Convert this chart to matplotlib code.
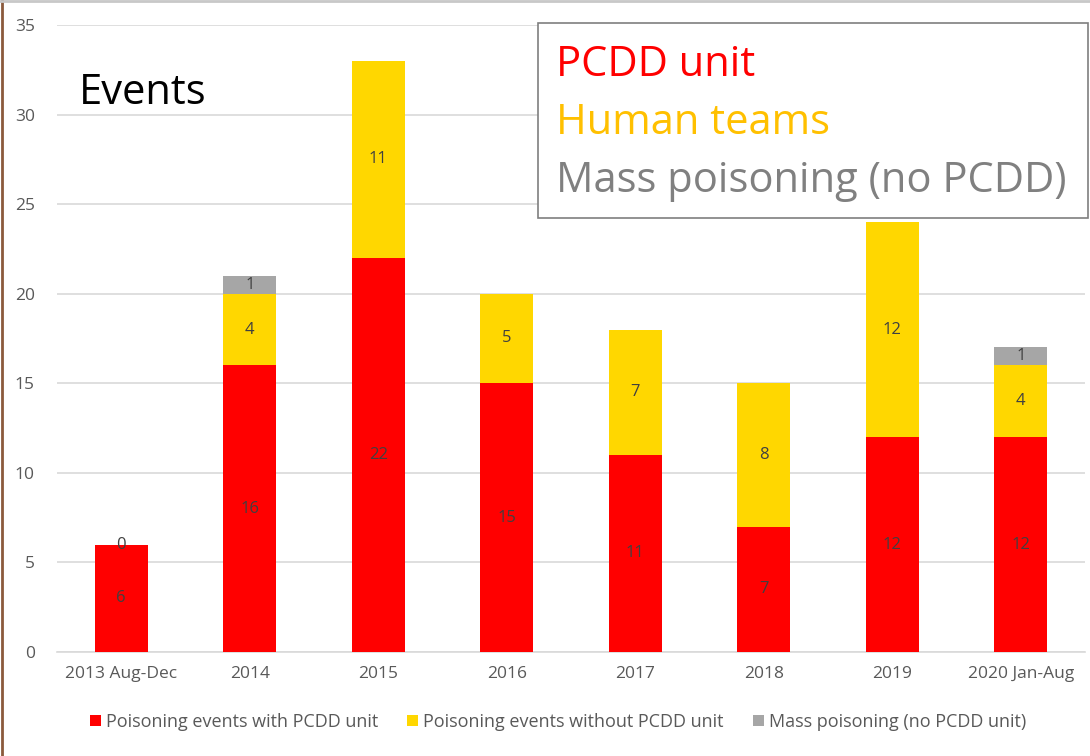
import matplotlib
matplotlib.use("Agg")
import matplotlib.pyplot as plt
from matplotlib.lines import Line2D
from matplotlib.patches import Patch
import numpy as np

categories = ["2013 Aug-Dec", "2014", "2015", "2016", "2017", "2018", "2019", "2020 Jan-Aug"]
with_pcdd = [6, 16, 22, 15, 11, 7, 12, 12]
without_pcdd = [0, 4, 11, 5, 7, 8, 12, 4]
mass_poisoning = [0, 1, 0, 0, 0, 0, 0, 1]
series_names = ["Poisoning events with PCDD unit", "Poisoning events without PCDD unit",
                "Mass poisoning (no PCDD unit)"]
yticks = [0, 5, 10, 15, 20, 25, 30, 35]

RED, YEL, GRY = "#FF0000", "#FFD700", "#A6A6A6"
TXT = "#595959"
FONT = ["Open Sans", "DejaVu Sans"]
plt.rcParams['font.family'] = FONT

fig = plt.figure(figsize=(10.9, 7.56), dpi=100)
ax = fig.add_axes([57/1090, 1-652/756, (1085-57)/1090, (652-25)/756])

x = np.arange(len(categories))
w = 0.41
a = np.array(with_pcdd); b = np.array(without_pcdd); c = np.array(mass_poisoning)
ax.bar(x, a, w, color=RED, zorder=3)
ax.bar(x, b, w, bottom=a, color=YEL, zorder=3)
ax.bar(x, c, w, bottom=a + b, color=GRY, zorder=3)

lab_kw = dict(ha="center", va="center", fontsize=12, color="#404040", zorder=4)
for i in range(len(x)):
    ax.text(x[i], a[i] / 2, str(a[i]), **lab_kw)
    ax.text(x[i], a[i] + b[i] / 2, str(b[i]), **lab_kw)
    if c[i]:
        ax.text(x[i], a[i] + b[i] + c[i] / 2, str(c[i]), **lab_kw)

ax.set_xlim(-0.5, len(categories) - 0.5)
ax.set_ylim(0, 35)
ax.set_yticks(yticks)
ax.set_xticks(x)
ax.set_xticklabels(categories)
ax.tick_params(axis="both", length=0, labelsize=12.5, labelcolor=TXT)
ax.tick_params(axis="x", pad=10)
ax.tick_params(axis="y", pad=16)
ax.grid(axis="y", color="#D9D9D9", linewidth=1.2, zorder=0)
for s in ["left", "right", "top"]:
    ax.spines[s].set_visible(False)
ax.spines["bottom"].set_color("#D9D9D9")
ax.spines["bottom"].set_linewidth(1.2)

# "Events" label
ax.text(79/1090, 1-93/756, "Events", transform=fig.transFigure, fontsize=30,
        color="black", ha="left", va="center")

# Annotation box
fig.patches.append(matplotlib.patches.Rectangle((538/1090, 1-218/756), (1088-538)/1090, (218-23)/756,
                   transform=fig.transFigure, facecolor="white", edgecolor="#7F7F7F",
                   linewidth=1.2, zorder=5))
for txt, col, yy in [("PCDD unit", RED, 65), ("Human teams", "#FFC000", 123),
                     ("Mass poisoning (no PCDD)", "#808080", 181)]:
    fig.text(556/1090, 1-yy/756, txt, color=col, fontsize=30, ha="left", va="center", zorder=6)

handles = [Patch(facecolor=RED), Patch(facecolor=YEL), Patch(facecolor=GRY)]
fig.legend(handles, series_names, loc="center", bbox_to_anchor=(558/1090, 1-722/756),
           ncol=3, frameon=False, fontsize=13, handlelength=0.6, handleheight=0.6,
           handletextpad=0.3, columnspacing=1.6, labelcolor=TXT)

# frame edges
fig.add_artist(Line2D([1.5/1090, 1.5/1090], [0, 1], color="#8B5A3C", linewidth=2, transform=fig.transFigure))
fig.add_artist(Line2D([0, 1], [1-1/756, 1-1/756], color="#C8C8C8", linewidth=2, transform=fig.transFigure))

fig.savefig("out.png", dpi=100)
